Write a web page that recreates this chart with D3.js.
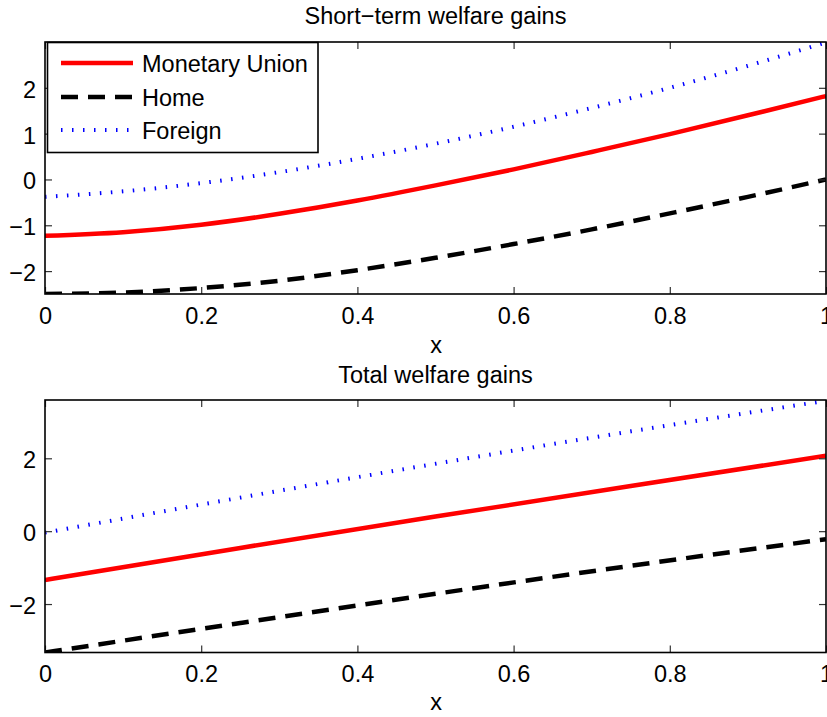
<!DOCTYPE html>
<html>
<head>
<meta charset="utf-8">
<script src="https://cdn.jsdelivr.net/npm/d3@7"></script>
<style>
  body { margin: 0; background: #fff; }
  text { font-family: "Liberation Sans", Arial, sans-serif; fill: #000; }
</style>
</head>
<body>
<div id="chart"></div>
<script>
// short-term welfare gains
let shortX = [0, 0.1, 0.2, 0.3, 0.4, 0.5, 0.6, 0.7, 0.8, 0.9, 1.0]
let shortUnion = [-1.23, -1.15, -0.99, -0.75, -0.46, -0.13, 0.22, 0.60, 0.99, 1.40, 1.82]
let shortHome = [-2.50, -2.47, -2.37, -2.21, -1.98, -1.71, -1.41, -1.09, -0.74, -0.38, 0.0]
let shortForeign = [-0.38, -0.26, -0.08, 0.16, 0.45, 0.78, 1.15, 1.56, 2.00, 2.48, 2.99]

// total welfare gains
let totalX = [0, 0.25, 0.5, 0.75, 1.0]
let totalUnion = [-1.34, -0.46, 0.40, 1.24, 2.07]
let totalHome = [-3.33, -2.52, -1.72, -0.95, -0.22]
let totalForeign = [-0.04, 0.92, 1.85, 2.74, 3.58]

let xTicks = [0, 0.2, 0.4, 0.6, 0.8, 1]
let shortYTicks = [-2, -1, 0, 1, 2]
let totalYTicks = [-2, 0, 2]
let names = ["Monetary Union", "Home", "Foreign"]

let width = 827, height = 717
let fontSize = 23.5

let styles = [
  { color: "#ff0000", dash: null, w: 4.5 },
  { color: "#000000", dash: "17,10", w: 4.5 },
  { color: "#0000ff", dash: "1.5,9.5", w: 4 }
]

let svg = d3.select("#chart").append("svg")
    .attr("width", width)
    .attr("height", height)

let fmt = d => (d < 0 ? "\u2212" + Math.abs(d) : String(d))

function panel(opts) {
  let x = d3.scaleLinear().domain([0, 1]).range([45, 826])
  let y = d3.scaleLinear().domain(opts.yDomain).range([opts.bottom, opts.top])

  let g = svg.append("g")

  let clipId = "clip" + opts.top
  g.append("clipPath").attr("id", clipId)
    .append("rect")
    .attr("x", 45).attr("y", opts.top)
    .attr("width", 781).attr("height", opts.bottom - opts.top)

  let line = d3.line()
      .x(d => x(d[0]))
      .y(d => y(d[1]))
      .curve(d3.curveNatural)

  opts.series.forEach((vals, i) => {
    g.append("path")
      .datum(opts.xs.map((v, j) => [v, vals[j]]))
      .attr("clip-path", "url(#" + clipId + ")")
      .attr("fill", "none")
      .attr("stroke", styles[i].color)
      .attr("stroke-width", styles[i].w)
      .attr("stroke-dasharray", styles[i].dash)
      .attr("d", line)
  })

  // inward ticks on all four sides, like matlab
  let tl = 7
  let ab = g.append("g")
    .attr("transform", "translate(0," + opts.bottom + ")")
    .call(d3.axisBottom(x).tickValues(xTicks).tickSize(-tl).tickPadding(13).tickFormat(d3.format("")))
  ab.select(".domain").remove()
  ab.selectAll("text").attr("font-size", fontSize).attr("dy", "0.72em")
    .attr("font-family", "Liberation Sans, Arial, sans-serif")

  let at = g.append("g")
    .attr("transform", "translate(0," + opts.top + ")")
    .call(d3.axisTop(x).tickValues(xTicks).tickSize(-tl).tickFormat(""))
  at.select(".domain").remove()

  let al = g.append("g")
    .attr("transform", "translate(45,0)")
    .call(d3.axisLeft(y).tickValues(opts.yTicks).tickSize(-tl).tickPadding(9).tickFormat(fmt))
  al.select(".domain").remove()
  al.selectAll("text").attr("font-size", fontSize).attr("dy", "0.4em")
    .attr("font-family", "Liberation Sans, Arial, sans-serif")

  let ar = g.append("g")
    .attr("transform", "translate(826,0)")
    .call(d3.axisRight(y).tickValues(opts.yTicks).tickSize(-tl).tickFormat(""))
  ar.select(".domain").remove()

  g.selectAll(".tick line").attr("stroke", "#333").attr("stroke-width", 1.2)

  g.append("rect")
    .attr("x", 45).attr("y", opts.top)
    .attr("width", 781).attr("height", opts.bottom - opts.top)
    .attr("fill", "none")
    .attr("stroke", "#000")
    .attr("stroke-width", 1.6)

  g.append("text")
    .attr("x", 435.5).attr("y", opts.titleY)
    .attr("text-anchor", "middle")
    .attr("font-size", fontSize)
    .text(opts.title)

  g.append("text")
    .attr("x", 436).attr("y", opts.xLabelY)
    .attr("text-anchor", "middle")
    .attr("font-size", fontSize)
    .text("x")

  return g
}

let topPanel = panel({
  top: 42, bottom: 294, yDomain: [-2.5, 3.0], yTicks: shortYTicks,
  xs: shortX, series: [shortUnion, shortHome, shortForeign],
  title: "Short\u2212term welfare gains", titleY: 24, xLabelY: 353
})

panel({
  top: 400, bottom: 652.5, yDomain: [-3.33, 3.60], yTicks: totalYTicks,
  xs: totalX, series: [totalUnion, totalHome, totalForeign],
  title: "Total welfare gains", titleY: 383, xLabelY: 710
})

// legend in the upper panel
let leg = topPanel.append("g")
leg.append("rect")
  .attr("x", 47.5).attr("y", 42.5)
  .attr("width", 270.5).attr("height", 110)
  .attr("fill", "#fff")
  .attr("stroke", "#000")
  .attr("stroke-width", 1.6)

let legY = [63, 97, 130]
names.forEach((n, i) => {
  leg.append("line")
    .attr("x1", 61).attr("x2", 133)
    .attr("y1", legY[i]).attr("y2", legY[i])
    .attr("stroke", styles[i].color)
    .attr("stroke-width", styles[i].w)
    .attr("stroke-dasharray", styles[i].dash)
  leg.append("text")
    .attr("x", 142).attr("y", legY[i] + 9.3)
    .attr("font-size", fontSize)
    .text(n)
})
</script>
</body>
</html>
